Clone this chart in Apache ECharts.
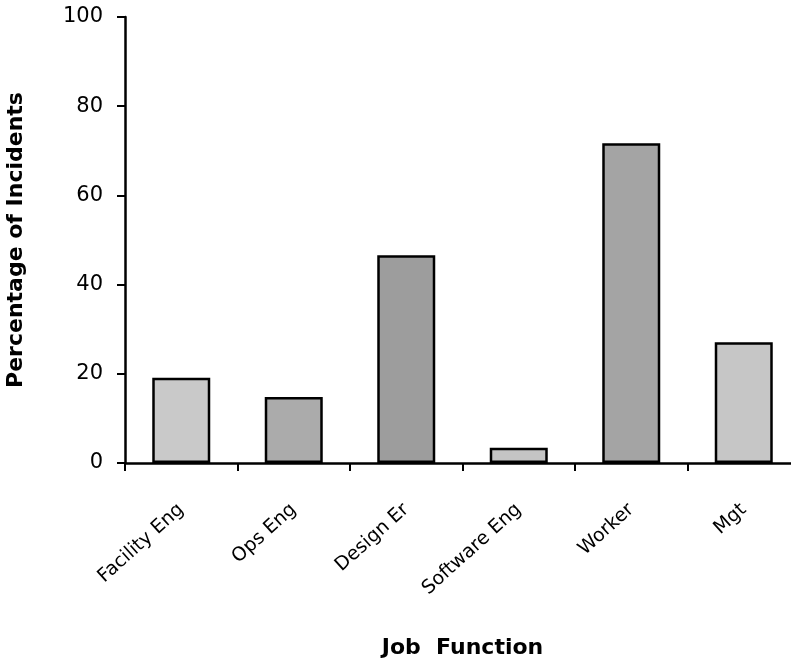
<!DOCTYPE html>
<html>
<head>
<meta charset="utf-8">
<script src="https://cdn.jsdelivr.net/npm/echarts@6/dist/echarts.min.js"></script>
<style>html,body{margin:0;padding:0;background:#fff;}#c{width:791px;height:667px;}</style>
</head>
<body>
<div id="c"></div>
<script>
const categories = ["Facility Eng", "Ops Eng", "Design Er", "Software Eng", "Worker", "Mgt"];
const percentages = [19.1, 14.8, 46.6, 3.4, 71.7, 27.1];
const barShades = ["#c9c9c9", "#ababab", "#9d9d9d", "#c4c4c4", "#a4a4a4", "#c6c6c6"];
const yTicks = [0, 20, 40, 60, 80, 100];

const chart = echarts.init(document.getElementById('c'));
chart.setOption({
  animation: false,
  backgroundColor: '#fff',
  grid: { left: 125, top: 17, width: 675, height: 446, containLabel: false, outerBoundsMode: 'none' },
  xAxis: {
    type: 'category',
    data: categories,
    name: 'Job  Function',
    nameLocation: 'middle',
    nameGap: 174,
    nameTextStyle: { fontFamily: 'DejaVu Sans', fontWeight: 'bold', fontSize: 22, color: '#000', verticalAlign: 'top' },
    axisLine: { lineStyle: { color: '#000', width: 2.5 } },
    axisTick: { show: true, length: 8, lineStyle: { color: '#000', width: 2 }, alignWithLabel: false },
    axisLabel: { rotate: 42, margin: 44, fontFamily: 'DejaVu Sans', fontSize: 19, color: '#000', interval: 0 }
  },
  yAxis: {
    type: 'value',
    min: 0, max: 100, interval: 20,
    name: 'Percentage of Incidents',
    nameLocation: 'middle',
    nameGap: 98,
    nameRotate: 90,
    nameTextStyle: { fontFamily: 'DejaVu Sans', fontWeight: 'bold', fontSize: 22, color: '#000' },
    axisLine: { show: true, lineStyle: { color: '#000', width: 2.5 } },
    axisTick: { show: true, length: 8, lineStyle: { color: '#000', width: 2 } },
    splitLine: { show: false },
    axisLabel: {
      margin: 22, fontFamily: 'DejaVu Sans', fontSize: 21, color: '#000',
      formatter: v => yTicks.includes(v) ? String(v) : ''
    }
  },
  series: [{
    type: 'bar',
    data: percentages.map((v, i) => ({ value: v, itemStyle: { color: barShades[i] } })),
    barWidth: 58,
    itemStyle: { borderColor: '#000', borderWidth: 2.5 }
  }]
});
</script>
</body>
</html>
